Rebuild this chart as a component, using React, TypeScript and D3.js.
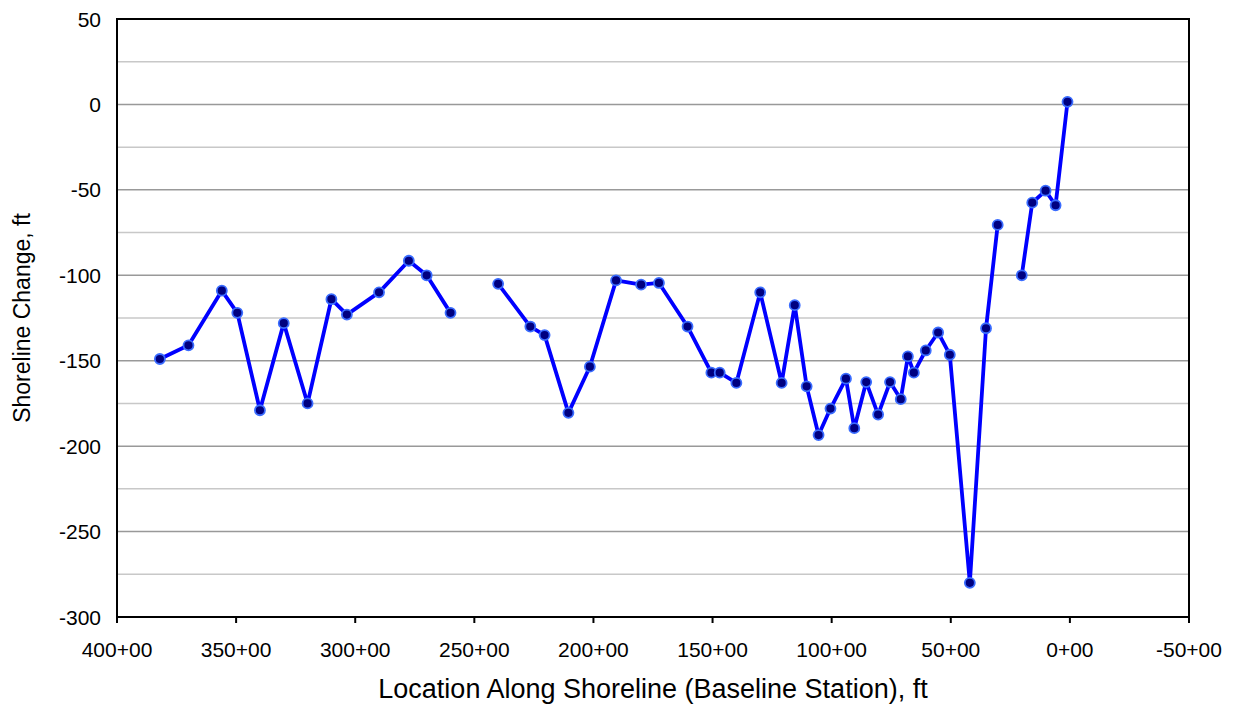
import { useEffect } from "react";
import * as d3 from "d3";

// baseline station (in 100 ft) and shoreline change (ft); null = no survey
const stations = [
  382, 370, 356, 349.5, 340, 330, 320, 310, 303.5, 290, 277.5, 270, 260,
  250,
  240, 226.5, 220.5, 210.5, 201.5, 190.5, 180, 172.5, 160.5, 150.5, 147, 140,
  130, 121, 115.5, 110.5, 105.5, 100.5, 94, 90.5, 85.5, 80.5, 75.5, 71, 68,
  65.5, 60.5, 55.3, 50.4, 42, 35.2, 30.3,
  25,
  20.2, 15.8, 10.2, 6, 1,
];
const shoreChange = [
  -149, -141, -109, -122, -179, -128, -175, -114, -123, -110, -91.5, -100, -122,
  null,
  -105, -130, -135, -180.5, -153.5, -103, -105.5, -104.5, -130, -157, -157, -163,
  -110, -163, -117.5, -165, -193.5, -178, -160.5, -189.5, -162.5, -181.5, -162.5, -172.5, -147.5,
  -157, -144, -133.5, -146.5, -280, -131, -70.5,
  null,
  -100, -57.5, -50.5, -59, 1.5,
];

const xTicks = [400, 350, 300, 250, 200, 150, 100, 50, 0, -50];
const yTicks = [50, 0, -50, -100, -150, -200, -250, -300];
const yMinor = [25, -25, -75, -125, -175, -225, -275];

const W = 1233;
const H = 728;
const m = { left: 117, right: 1189, top: 19, bottom: 617 };

export default function App() {
  useEffect(() => {
    document.body.style.margin = "0";
  }, []);

  const x = d3.scaleLinear().domain([400, -50]).range([m.left, m.right]);
  const y = d3.scaleLinear().domain([-300, 50]).range([m.bottom, m.top]);

  const pts = stations.map((s, i) => ({ s, v: shoreChange[i] }));
  const line = d3
    .line<{ s: number; v: number | null }>()
    .defined((d) => d.v !== null)
    .x((d) => x(d.s))
    .y((d) => y(d.v as number));

  const font = "Arial, 'Liberation Sans', sans-serif";

  return (
    <svg width={W} height={H} style={{ display: "block", background: "#fff" }} fontFamily={font}>
      {/* minor grid */}
      {yMinor.map((t) => (
        <line key={"mn" + t} x1={m.left} x2={m.right} y1={y(t)} y2={y(t)} stroke="#c8c8c8" strokeWidth={1.5} />
      ))}
      {/* major grid */}
      {yTicks.slice(1, -1).map((t) => (
        <line key={"mj" + t} x1={m.left} x2={m.right} y1={y(t)} y2={y(t)} stroke="#999" strokeWidth={1.5} />
      ))}
      {/* frame */}
      <rect x={m.left} y={m.top} width={m.right - m.left} height={m.bottom - m.top} fill="none" stroke="#000" strokeWidth={2} />

      {/* x ticks */}
      {xTicks.map((t) => (
        <g key={"xt" + t}>
          <line x1={x(t)} x2={x(t)} y1={m.bottom} y2={m.bottom + 6} stroke="#000" strokeWidth={2} />
          <text x={x(t)} y={657} textAnchor="middle" fontSize={21} fill="#000">
            {t + "+00"}
          </text>
        </g>
      ))}
      {/* y labels */}
      {yTicks.map((t) => (
        <text key={"yt" + t} x={101} y={y(t)} dy="0.36em" textAnchor="end" fontSize={21} fill="#000">
          {t}
        </text>
      ))}

      {/* series */}
      <path d={line(pts) || ""} fill="none" stroke="#0000ff" strokeWidth={3.8} strokeLinejoin="round" />
      {pts
        .filter((d) => d.v !== null)
        .map((d, i) => (
          <circle key={"p" + i} cx={x(d.s)} cy={y(d.v as number)} r={5} fill="#000080" stroke="#3a6cff" strokeWidth={1.8} />
        ))}

      {/* axis titles */}
      <text x={(m.left + m.right) / 2} y={698} textAnchor="middle" fontSize={27} fill="#000">
        Location Along Shoreline (Baseline Station), ft
      </text>
      <text
        transform={`translate(30,${(m.top + m.bottom) / 2}) rotate(-90)`}
        textAnchor="middle"
        fontSize={23}
        fill="#000"
      >
        Shoreline Change, ft
      </text>
    </svg>
  );
}
